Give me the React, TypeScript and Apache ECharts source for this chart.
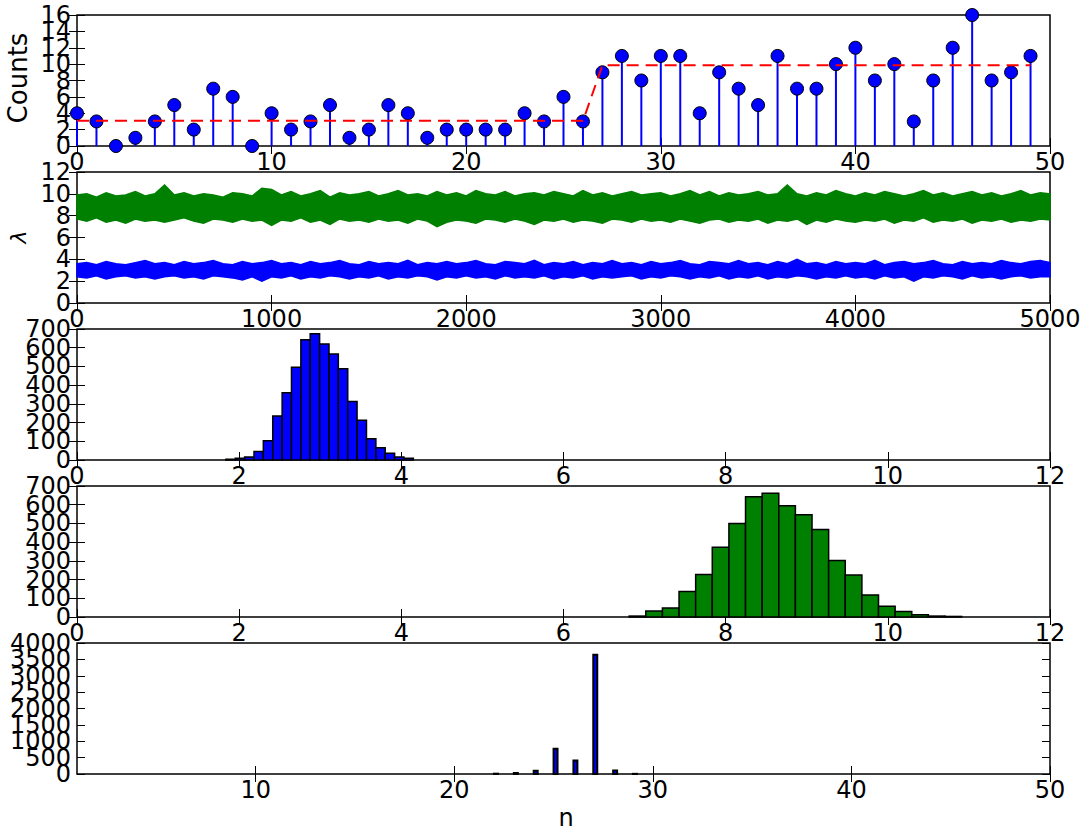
import React, { useEffect, useRef } from "react";
import * as echarts from "echarts";

// ---- Panel 1: observed counts (stem plot) and expected value ----
const DAYS = [
  0, 1, 2, 3, 4, 5, 6, 7, 8, 9, 10, 11, 12, 13, 14, 15, 16, 17, 18, 19, 20, 21, 22, 23, 24,
  25, 26, 27, 28, 29, 30, 31, 32, 33, 34, 35, 36, 37, 38, 39, 40, 41, 42, 43, 44, 45, 46, 47, 48, 49,
];
const COUNTS = [
  4, 3, 0, 1, 3, 5, 2, 7, 6, 0, 4, 2, 3, 5, 1, 2, 5, 4, 1, 2, 2, 2, 2, 4, 3,
  6, 3, 9, 11, 8, 11, 11, 4, 9, 7, 5, 11, 7, 7, 10, 12, 8, 10, 3, 8, 12, 16, 8, 9, 11,
];
const EXPECTED = [
  3.07, 3.07, 3.07, 3.07, 3.07, 3.07, 3.07, 3.07, 3.07, 3.07, 3.07, 3.07, 3.07, 3.07, 3.07,
  3.07, 3.07, 3.07, 3.07, 3.07, 3.07, 3.07, 3.07, 3.07, 3.07, 3.07, 3.07,
  9.85, 9.85, 9.85, 9.85, 9.85, 9.85, 9.85, 9.85, 9.85, 9.85, 9.85, 9.85, 9.85, 9.85, 9.85,
  9.85, 9.85, 9.85, 9.85, 9.85, 9.85, 9.85, 9.85,
];

// ---- Panel 2: lambda traces (envelope of the trace read every 50 samples) ----
const TRACE_STEP = 50;
const GREEN_HI = [
  9.9, 10.0, 9.7, 10.1, 9.8, 9.9, 10.2, 9.8, 10.0, 10.8,
  9.9, 10.1, 9.8, 10.0, 9.9, 9.7, 10.1, 10.0, 9.8, 10.5,
  10.4, 9.9, 10.2, 9.8, 10.0, 10.3, 9.7, 10.1, 9.9, 10.0,
  10.2, 9.8, 10.0, 10.3, 9.9, 10.0, 9.8, 10.2, 9.9, 10.1,
  9.8, 10.3, 10.0, 9.9, 10.2, 9.8, 10.0, 10.1, 9.9, 10.2,
  10.0, 9.8, 10.3, 9.9, 10.1, 9.8, 10.0, 10.2, 9.9, 10.0,
  10.1, 9.8, 10.0, 10.3, 9.9, 10.2, 9.8, 10.1, 9.9, 10.0,
  10.2, 9.9, 10.0, 10.8, 10.0, 9.8, 10.1, 9.9, 10.3, 10.0,
  9.8, 10.1, 9.9, 10.2, 10.0, 9.8, 10.0, 10.3, 9.9, 10.1,
  9.8, 10.0, 10.2, 9.9, 10.1, 9.8, 10.0, 10.3, 9.9, 10.1,
  10.0,
];
const GREEN_LO = [
  7.7, 7.5, 7.8, 7.4, 7.6, 7.3, 7.7, 7.5, 7.6, 7.4,
  7.6, 7.8, 7.5, 7.3, 7.7, 7.6, 7.4, 7.7, 7.5, 7.6,
  7.1, 7.6, 7.5, 7.8, 7.4, 7.6, 7.2, 7.7, 7.5, 7.6,
  7.4, 7.7, 7.5, 7.6, 7.3, 7.7, 7.5, 7.0, 7.4, 7.6,
  7.5, 7.3, 7.7, 7.6, 7.4, 7.7, 7.5, 7.2, 7.6, 7.5,
  7.7, 7.4, 7.6, 7.5, 7.3, 7.7, 7.6, 7.4, 7.7, 7.5,
  7.6, 7.4, 7.7, 7.5, 7.3, 7.6, 7.7, 7.4, 7.6, 7.5,
  7.7, 7.3, 7.6, 7.5, 7.7, 7.2, 7.6, 7.4, 7.7, 7.5,
  7.4, 7.6, 7.5, 7.7, 7.3, 7.6, 7.5, 7.8, 7.4, 7.6,
  7.5, 7.7, 7.3, 7.6, 7.5, 7.7, 7.4, 7.6, 7.5, 7.7,
  7.6,
];
const BLUE_HI = [
  3.6, 3.7, 3.5, 3.8, 3.6, 3.5, 3.7, 3.9, 3.6, 3.7,
  3.5, 3.8, 3.6, 3.7, 3.9, 3.6, 3.5, 3.8, 3.6, 3.7,
  3.9, 3.6, 3.7, 3.5, 3.8, 3.6, 3.7, 3.9, 3.6, 3.5,
  3.8, 3.6, 3.7, 3.6, 3.9, 3.5, 3.7, 3.6, 3.8, 3.6,
  3.7, 3.9, 3.6, 3.5, 3.8, 3.7, 3.6, 3.9, 3.5, 3.7,
  3.6, 3.8, 3.5, 3.7, 3.6, 3.9, 3.6, 3.7, 3.5, 3.8,
  3.6, 3.7, 3.9, 3.6, 3.5, 3.8, 3.7, 3.6, 3.9, 3.6,
  3.7, 3.5, 3.8, 3.6, 4.0, 3.6, 3.7, 3.5, 3.8, 3.6,
  3.7, 3.6, 3.9, 3.5, 3.7, 3.8, 3.6, 3.7, 3.9, 3.6,
  3.5, 3.8, 3.6, 3.7, 3.6, 3.9, 3.7, 3.6, 3.8, 3.9,
  3.7,
];
const BLUE_LO = [
  2.4, 2.3, 2.5, 2.2, 2.4, 2.5, 2.3, 2.4, 2.2, 2.4,
  2.5, 2.3, 2.4, 2.2, 2.5, 2.4, 2.3, 2.1, 2.4, 2.0,
  2.4, 2.3, 2.5, 2.2, 2.4, 2.3, 2.5, 2.4, 2.2, 2.4,
  2.3, 2.5, 2.2, 2.4, 2.3, 2.5, 2.4, 2.1, 2.4, 2.3,
  2.5, 2.3, 2.4, 2.2, 2.5, 2.3, 2.4, 2.3, 2.5, 2.2,
  2.4, 2.3, 2.5, 2.2, 2.4, 2.3, 2.4, 2.5, 2.2, 2.4,
  2.3, 2.5, 2.4, 2.2, 2.4, 2.3, 2.5, 2.2, 2.4, 2.3,
  2.5, 2.2, 2.4, 2.3, 2.5, 2.4, 2.2, 2.4, 2.3, 2.5,
  2.3, 2.4, 2.2, 2.5, 2.3, 2.4, 2.0, 2.4, 2.3, 2.5,
  2.4, 2.2, 2.5, 2.3, 2.4, 2.2, 2.4, 2.5, 2.3, 2.4,
  2.4,
];

// ---- Panel 3: histogram of lambda_1 ----
const L1_EDGES = [
  1.836, 1.952, 2.067, 2.183, 2.298, 2.414, 2.53, 2.645, 2.761, 2.876, 2.992,
  3.108, 3.223, 3.339, 3.454, 3.57, 3.686, 3.801, 3.917, 4.032, 4.148,
];
const L1_COUNTS = [4, 9, 16, 45, 103, 235, 360, 495, 643, 675, 620, 566, 488, 312, 212, 114, 66, 36, 16, 9];

// ---- Panel 4: histogram of lambda_2 ----
const L2_EDGES = [
  6.81, 7.015, 7.22, 7.425, 7.63, 7.835, 8.04, 8.245, 8.45, 8.655, 8.86,
  9.065, 9.27, 9.475, 9.68, 9.885, 10.09, 10.295, 10.5, 10.705, 10.91,
];
const L2_COUNTS = [5, 32, 48, 136, 227, 373, 500, 643, 661, 595, 546, 468, 302, 225, 118, 57, 30, 12, 5, 3];

// ---- Panel 5: histogram of tau ----
const TAU_BIN_WIDTH = 0.2;
const TAU_N = [22, 23, 24, 25, 26, 27, 28, 29];
const TAU_COUNTS = [10, 30, 100, 770, 410, 3640, 105, 5];

// ---- axis ranges and tick labels ----
const P1_X = { min: 0, max: 50, interval: 10 };
const P1_Y = { min: 0, max: 16, interval: 2 };
const P2_X = { min: 0, max: 5000, interval: 1000 };
const P2_Y = { min: 0, max: 12, interval: 2 };
const HIST_X = { min: 0, max: 12, interval: 2 };
const HIST_Y = { min: 0, max: 700, interval: 100 };
const P5_X = { min: 1, max: 50 };
const P5_X_TICKS = [10, 20, 30, 40, 50];
const P5_Y = { min: 0, max: 4000, interval: 500 };

const P1_Y_LABELS = [0, 2, 4, 6, 8, 10, 12, 14, 16];
const P2_Y_LABELS = [0, 2, 4, 6, 8, 10, 12];
const HIST_Y_LABELS = [0, 100, 200, 300, 400, 500, 600, 700];
const P5_Y_LABELS = [0, 500, 1000, 1500, 2000, 2500, 3000, 3500, 4000];

const FONT = "DejaVu Sans";
const BLUE = "#0000ff";
const GREEN = "#008000";

const GRID_TOPS = [15, 172, 329, 486, 643];
const GRID_H = 131;

function histItem(color: string, lw: number) {
  return (params: any, api: any) => {
    const x0 = api.value(0);
    const x1 = api.value(1);
    const y = api.value(2);
    const p0 = api.coord([x0, y]);
    const p1 = api.coord([x1, 0]);
    return {
      type: "rect",
      shape: { x: p0[0], y: p0[1], width: p1[0] - p0[0], height: p1[1] - p0[1] },
      style: { fill: color, stroke: "#000", lineWidth: lw },
    };
  };
}

function bandItem(xs: number[], hi: number[], lo: number[], color: string) {
  return (params: any, api: any) => {
    const pts: number[][] = [];
    for (let i = 0; i < xs.length; i++) pts.push(api.coord([xs[i], hi[i]]));
    for (let i = xs.length - 1; i >= 0; i--) pts.push(api.coord([xs[i], lo[i]]));
    return {
      type: "polygon",
      shape: { points: pts },
      style: { fill: color, stroke: color, lineWidth: 1.5, lineJoin: "miter" },
    };
  };
}

function yLabelItem(xMin: number) {
  return (params: any, api: any) => {
    const v = api.value(0);
    const p = api.coord([xMin, v]);
    return {
      type: "text",
      x: p[0] - 6,
      y: p[1],
      style: {
        text: String(v),
        fontFamily: FONT,
        fontSize: 24,
        fill: "#000",
        align: "right",
        verticalAlign: "middle",
      },
    };
  };
}

export default function App() {
  const ref = useRef<HTMLDivElement>(null);
  useEffect(() => {
    if (!ref.current) return;
    const chart = echarts.init(ref.current, undefined, { renderer: "svg" });

    const labelStyle = {
      fontFamily: FONT,
      fontSize: 24,
      color: "#000",
      hideOverlap: false,
      formatter: (v: number) => String(v),
    };
    const tick = { show: true, inside: true, length: 8, lineStyle: { color: "#000", width: 1 } };

    const grids = GRID_TOPS.map((t) => ({
      left: 77,
      width: 973,
      top: t,
      height: GRID_H,
      show: true,
      borderColor: "#000",
      borderWidth: 1.5,
      backgroundColor: "transparent",
    }));

    const xSpecs: any[] = [P1_X, P2_X, HIST_X, HIST_X, P5_X];
    const ySpecs: any[] = [P1_Y, P2_Y, HIST_Y, HIST_Y, P5_Y];
    const yLabels = [P1_Y_LABELS, P2_Y_LABELS, HIST_Y_LABELS, HIST_Y_LABELS, P5_Y_LABELS];

    const xAxis: any[] = [];
    const yAxis: any[] = [];
    xSpecs.forEach((s, i) => {
      const custom = i === 4;
      const base: any = {
        type: "value",
        gridIndex: i,
        min: s.min,
        max: s.max,
        splitLine: { show: false },
        axisLine: { show: false },
      };
      if (!custom) base.interval = s.interval;
      xAxis.push({
        ...base,
        position: "bottom",
        axisTick: custom ? { ...tick, customValues: P5_X_TICKS } : tick,
        axisLabel: custom
          ? { ...labelStyle, margin: 4, customValues: P5_X_TICKS }
          : { ...labelStyle, margin: 4, showMinLabel: true, showMaxLabel: true },
      });
      xAxis.push({
        ...base,
        position: "top",
        axisTick: custom ? { ...tick, customValues: P5_X_TICKS } : tick,
        axisLabel: { show: false },
      });
    });
    ySpecs.forEach((s, i) => {
      const base: any = {
        type: "value",
        gridIndex: i,
        min: s.min,
        max: s.max,
        interval: s.interval,
        splitLine: { show: false },
        axisLine: { show: false },
      };
      yAxis.push({ ...base, position: "left", axisTick: tick, axisLabel: { show: false } });
      yAxis.push({ ...base, position: "right", axisTick: tick, axisLabel: { show: false } });
    });

    const traceX = GREEN_HI.map((_, i) => i * TRACE_STEP);

    const labelSeries = yLabels.map((labels, i) => ({
      type: "custom",
      xAxisIndex: 2 * i,
      yAxisIndex: 2 * i,
      clip: false,
      silent: true,
      encode: { y: 0 },
      data: labels.map((v) => [v]),
      renderItem: yLabelItem(xSpecs[i].min),
      z: 10,
    }));

    const series: any[] = [
      // Panel 1
      {
        type: "bar",
        xAxisIndex: 0,
        yAxisIndex: 0,
        data: DAYS.map((d, i) => [d, COUNTS[i]]),
        barWidth: 2,
        itemStyle: { color: BLUE },
        z: 2,
      },
      {
        type: "scatter",
        xAxisIndex: 0,
        yAxisIndex: 0,
        data: DAYS.map((d, i) => [d, COUNTS[i]]),
        symbol: "circle",
        symbolSize: 13,
        itemStyle: { color: BLUE, borderColor: "#000", borderWidth: 1, opacity: 1 },
        clip: true,
        z: 3,
      },
      {
        type: "line",
        xAxisIndex: 0,
        yAxisIndex: 0,
        data: DAYS.map((d, i) => [d, EXPECTED[i]]),
        showSymbol: false,
        lineStyle: { color: "#ff0000", width: 2, type: [12, 7] },
        z: 4,
      },
      // Panel 2 — bands
      {
        type: "custom",
        xAxisIndex: 2,
        yAxisIndex: 2,
        data: [[0, 8]],
        renderItem: bandItem(traceX, GREEN_HI, GREEN_LO, GREEN),
      },
      {
        type: "custom",
        xAxisIndex: 2,
        yAxisIndex: 2,
        data: [[0, 3]],
        renderItem: bandItem(traceX, BLUE_HI, BLUE_LO, BLUE),
      },
      // Panel 3
      {
        type: "custom",
        xAxisIndex: 4,
        yAxisIndex: 4,
        renderItem: histItem(BLUE, 1.5),
        encode: { x: [0, 1], y: 2 },
        data: L1_COUNTS.map((c, i) => [L1_EDGES[i], L1_EDGES[i + 1], c]),
      },
      // Panel 4
      {
        type: "custom",
        xAxisIndex: 6,
        yAxisIndex: 6,
        renderItem: histItem(GREEN, 1.5),
        encode: { x: [0, 1], y: 2 },
        data: L2_COUNTS.map((c, i) => [L2_EDGES[i], L2_EDGES[i + 1], c]),
      },
      // Panel 5
      {
        type: "custom",
        xAxisIndex: 8,
        yAxisIndex: 8,
        renderItem: histItem(BLUE, 2),
        encode: { x: [0, 1], y: 2 },
        data: TAU_COUNTS.map((c, i) => [TAU_N[i], TAU_N[i] + TAU_BIN_WIDTH, c]),
      },
      ...labelSeries,
    ];

    chart.setOption({
      animation: false,
      backgroundColor: "#fff",
      grid: grids,
      xAxis,
      yAxis,
      series,
      graphic: [
        {
          type: "text",
          x: 18,
          y: 78,
          rotation: Math.PI / 2,
          style: {
            text: "Counts",
            fontFamily: FONT,
            fontSize: 26,
            fill: "#000",
            align: "center",
            verticalAlign: "middle",
          },
        },
        {
          type: "text",
          x: 18,
          y: 237,
          rotation: Math.PI / 2,
          style: {
            text: "λ",
            fontFamily: FONT,
            fontStyle: "italic",
            fontSize: 22,
            fill: "#000",
            align: "center",
            verticalAlign: "middle",
          },
        },
        {
          type: "text",
          x: 566,
          y: 818,
          style: {
            text: "n",
            fontFamily: FONT,
            fontSize: 24,
            fill: "#000",
            align: "center",
            verticalAlign: "middle",
          },
        },
      ],
    });
    return () => chart.dispose();
  }, []);
  return (
    <div
      ref={ref}
      style={{ position: "fixed", left: 0, top: 0, width: 1090, height: 833, background: "#fff" }}
    />
  );
}
